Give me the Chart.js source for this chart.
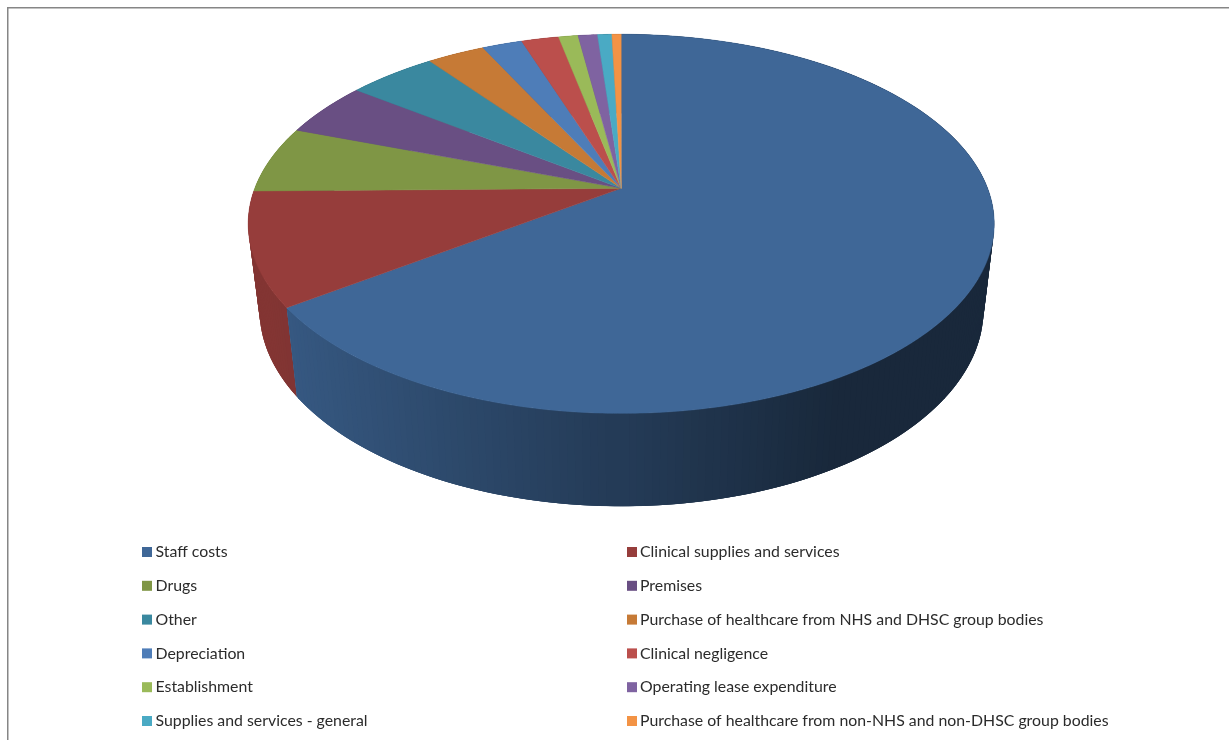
<!DOCTYPE html>
<html>
<head>
<meta charset="utf-8">
<title>Expenditure breakdown</title>
<script src="https://cdn.jsdelivr.net/npm/chart.js@4"></script>
<style>
    html, body { margin: 0; padding: 0; background: #ffffff; overflow: hidden; }
    canvas { display: block; }
</style>
</head>
<body>
<canvas id="pieChart" width="1229" height="740"></canvas>
<script>
// Expense categories and their share of the total (%)
const categories = [
    'Staff costs',
    'Clinical supplies and services',
    'Drugs',
    'Premises',
    'Other',
    'Purchase of healthcare from NHS and DHSC group bodies',
    'Depreciation',
    'Clinical negligence',
    'Establishment',
    'Operating lease expenditure',
    'Supplies and services - general',
    'Purchase of healthcare from non-NHS and non-DHSC group bodies'
];
const shares = [65.1, 9.65, 5.71, 4.69, 4.57, 2.99, 2.08, 1.94, 1.01, 1.01, 0.74, 0.48];
const sliceColors = [
    '#3f6797', '#963d3b', '#7f9645', '#694f83', '#3a889f', '#c67a36',
    '#4e7db8', '#bb4f4c', '#9aba59', '#7f63a1', '#4aaac4', '#f39345'
];

// Perspective of the tilted disc: k is the foreshortening, top and bottom are the two rims
const k = -0.1873;
const topRim = { x: 621.2, y: 188.3, a: 366.4, b: 182.9 };
const bottomRim = { x: 621.5, y: 273, a: 355.6, b: 189.6 };

// Map a Chart.js arc angle onto a rim of the disc
function project(angle, rim) {
    const phi = angle + Math.PI / 2;
    const u = Math.sin(phi);
    const v = -Math.cos(phi);
    const w = 1 + k * v;
    return { x: rim.x + rim.a * u / w, y: rim.y + rim.b * v / w };
}

function hexToRgb(hex) {
    return [1, 3, 5].map(i => parseInt(hex.substr(i, 2), 16));
}

// Side wall gets darker towards the right
function wallShade(hex, x) {
    let f = 0.85 - (x - 296) * 0.00086;
    f = Math.max(0.39, Math.min(0.87, f));
    const c = hexToRgb(hex).map(n => Math.round(n * f));
    return `rgb(${c[0]}, ${c[1]}, ${c[2]})`;
}

function drawWall(ctx, arcs) {
    const strips = [];
    const step = Math.PI / 180;
    arcs.forEach((arc, i) => {
        for (let a = arc.startAngle; a < arc.endAngle; a += step) {
            // strips overlap their neighbours so no seams show, but stay inside the slice
            const from = Math.max(a - step, arc.startAngle);
            const to = Math.min(a + 2 * step, arc.endAngle);
            const mid = project(a + step / 2, topRim);
            const low = project(a + step / 2, bottomRim);
            strips.push({
                color: wallShade(sliceColors[i], mid.x),
                depth: low.y,
                pts: [project(from, topRim), project(to, topRim), project(to, bottomRim), project(from, bottomRim)]
            });
        }
    });
    // back of the disc first, so the front strips end up on top
    strips.sort((p, q) => p.depth - q.depth);
    strips.forEach(s => {
        ctx.fillStyle = s.color;
        ctx.beginPath();
        s.pts.forEach((p, n) => n ? ctx.lineTo(p.x, p.y) : ctx.moveTo(p.x, p.y));
        ctx.closePath();
        ctx.fill();
    });
}

function drawTop(ctx, arcs) {
    arcs.forEach((arc, i) => {
        ctx.fillStyle = sliceColors[i];
        ctx.strokeStyle = sliceColors[i];
        ctx.lineWidth = 0.5;
        ctx.beginPath();
        ctx.moveTo(topRim.x, topRim.y);
        const n = Math.max(2, Math.ceil((arc.endAngle - arc.startAngle) * 120));
        for (let j = 0; j <= n; j++) {
            const p = project(arc.startAngle + (arc.endAngle - arc.startAngle) * j / n, topRim);
            ctx.lineTo(p.x, p.y);
        }
        ctx.closePath();
        ctx.fill();
        ctx.stroke();
    });
}

// Draws the arcs computed by the pie controller as a tilted 3D disc
const tiltedDisc = {
    id: 'tiltedDisc',
    beforeDatasetDraw(chart, args) {
        const ctx = chart.ctx;
        const arcs = args.meta.data;
        ctx.save();
        drawWall(ctx, arcs);
        drawTop(ctx, arcs);
        ctx.restore();
        return false;
    }
};

// Thin frame along the top and left, and the two column legend below the disc
const frameAndLegend = {
    id: 'frameAndLegend',
    afterDraw(chart) {
        const ctx = chart.ctx;
        ctx.save();
        ctx.fillStyle = '#868686';
        ctx.fillRect(7, 7, 1222, 1.5);
        ctx.fillRect(7, 7, 1.5, 733);

        ctx.font = '15.85px Lato';
        ctx.textBaseline = 'middle';
        chart.data.labels.forEach((label, i) => {
            const col = i % 2;
            const row = Math.floor(i / 2);
            const y = 552 + row * 33.8;
            ctx.fillStyle = sliceColors[i];
            ctx.fillRect(col ? 627 : 142, y - 5, 10, 10);
            ctx.fillStyle = '#2b2b2b';
            ctx.fillText(label, col ? 640 : 155.5, y);
        });
        ctx.restore();
    }
};

new Chart(document.getElementById('pieChart'), {
    type: 'pie',
    data: {
        labels: categories,
        datasets: [{ data: shares, backgroundColor: sliceColors, borderWidth: 0 }]
    },
    options: {
        responsive: false,
        animation: false,
        plugins: {
            legend: { display: false },
            tooltip: { enabled: false }
        }
    },
    plugins: [tiltedDisc, frameAndLegend]
});
</script>
</body>
</html>
